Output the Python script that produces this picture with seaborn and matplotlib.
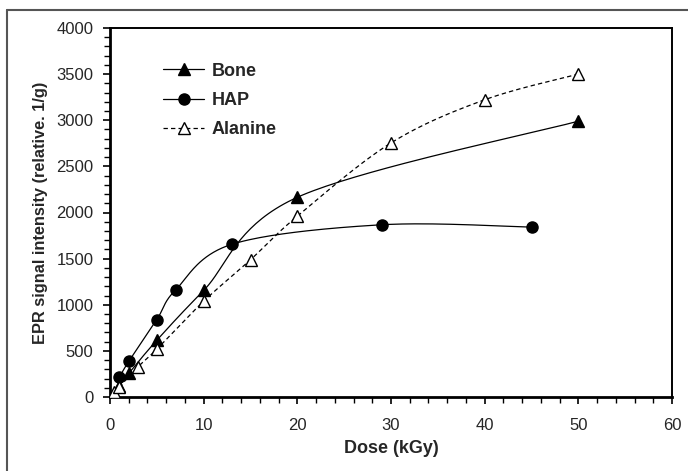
import numpy as np
import pandas as pd
import matplotlib
matplotlib.use("Agg")
import matplotlib.pyplot as plt
from matplotlib.lines import Line2D
from matplotlib.ticker import MultipleLocator
import seaborn as sns

# ---- data ----
bone_dose = [1, 2, 5, 10, 20, 50]
bone_sig = [120, 255, 615, 1155, 2165, 2990]

hap_dose = [1, 2, 5, 7, 13, 29, 45]
hap_sig = [215, 385, 840, 1160, 1655, 1867, 1842]

ala_dose = [0.4, 1, 3, 5, 10, 15, 20, 30, 40, 50]
ala_sig = [50, 110, 328, 519, 1038, 1488, 1960, 2754, 3222, 3500]

series_names = ["Bone", "HAP", "Alanine"]
x_ticks = [0, 10, 20, 30, 40, 50, 60]
y_ticks = [0, 500, 1000, 1500, 2000, 2500, 3000, 3500, 4000]


def smooth(x, y, n=40):
    """Catmull-Rom style Bezier smoothing (like Excel 'smoothed line')."""
    x = np.asarray(x, float)
    y = np.asarray(y, float)
    P = np.column_stack([x, y])
    pts = []
    m = len(P)
    t = np.linspace(0, 1, n)[:, None]
    for i in range(m - 1):
        p0 = P[i - 1] if i > 0 else P[i]
        p1 = P[i]
        p2 = P[i + 1]
        p3 = P[i + 2] if i + 2 < m else P[i + 1]
        c1 = p1 + (p2 - p0) / 6.0
        c2 = p2 - (p3 - p1) / 6.0
        seg = ((1 - t) ** 3) * p1 + 3 * ((1 - t) ** 2) * t * c1 + 3 * (1 - t) * t ** 2 * c2 + t ** 3 * p2
        pts.append(seg if i == 0 else seg[1:])
    S = np.vstack(pts)
    return S[:, 0], S[:, 1]


sns.set_style("ticks")
plt.rcParams["font.family"] = ["Liberation Sans", "DejaVu Sans"]

fig = plt.figure(figsize=(6.88, 4.71), dpi=100)
ax = fig.add_axes([110 / 688, 1 - 397 / 471, (672 - 110) / 688, (397 - 28) / 471])

styles = {
    "Bone": dict(ls="-", marker="^", mfc="black", ms=9),
    "HAP": dict(ls="-", marker="o", mfc="black", ms=8),
    "Alanine": dict(ls=(0, (3.5, 2.5)), marker="^", mfc="white", ms=9),
}
data = {"Bone": (bone_dose, bone_sig), "HAP": (hap_dose, hap_sig), "Alanine": (ala_dose, ala_sig)}

for name in series_names:
    xd, yd = data[name]
    sx, sy = smooth(xd, yd)
    df = pd.DataFrame({"x": sx, "y": sy})
    sns.lineplot(data=df, x="x", y="y", sort=False, estimator=None, ax=ax,
                 color="black", lw=0.9, linestyle=styles[name]["ls"], zorder=2)
    pdf = pd.DataFrame({"x": xd, "y": yd})
    ax.plot(pdf["x"], pdf["y"], ls="none", marker=styles[name]["marker"],
            ms=styles[name]["ms"], mfc=styles[name]["mfc"], mec="black", mew=1.0, zorder=3)

ax.set_xlim(0, 60)
ax.set_ylim(0, 4000)
ax.set_xticks(x_ticks)
ax.set_yticks(y_ticks)
ax.xaxis.set_minor_locator(MultipleLocator(2))
ax.yaxis.set_minor_locator(MultipleLocator(100))
ax.tick_params(which="major", direction="out", length=5, width=1.2, labelsize=12, pad=7, color="black")
ax.tick_params(which="minor", direction="out", length=4, width=1.0, color="black")
ax.tick_params(axis="x", pad=10)
for s in ax.spines.values():
    s.set_visible(True)
    s.set_color("black")
    s.set_linewidth(1.4)
ax.spines["left"].set_linewidth(2)
ax.spines["bottom"].set_linewidth(2)

ax.set_xlabel("Dose (kGy)", fontsize=13, fontweight="bold", labelpad=5)
ax.set_ylabel("EPR signal intensity (relative. 1/g)", fontsize=11.8, fontweight="bold", labelpad=6)

handles = []
for name in series_names:
    st = styles[name]
    handles.append(Line2D([], [], color="black", lw=0.9, linestyle=st["ls"], marker=st["marker"],
                          ms=st["ms"], mfc=st["mfc"], mec="black"))
leg = ax.legend(handles, series_names, loc="upper left", bbox_to_anchor=(0.065, 0.95), frameon=False,
                prop={"weight": "bold", "size": 13}, handlelength=2.3, labelspacing=0.68, handletextpad=0.4)

# outer chart frame
fig.add_artist(Line2D([7 / 688, 7 / 688], [0, 1 - 10 / 471], color="#555555", lw=1.5, transform=fig.transFigure))
fig.add_artist(Line2D([7 / 688, 1], [1 - 10 / 471, 1 - 10 / 471], color="#555555", lw=1.5, transform=fig.transFigure))

fig.savefig("out.png", dpi=100)
